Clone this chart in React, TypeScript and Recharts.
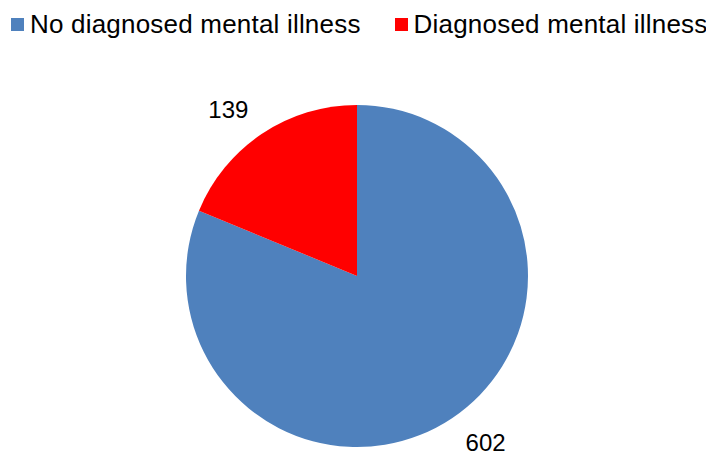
import React from "react";
import { PieChart, Pie, Cell } from "recharts";

const categories = ["No diagnosed mental illness", "Diagnosed mental illness"];
const counts = [602, 139];
const colors = ["#4F81BD", "#FF0000"];

const data = categories.map((name, i) => ({ name, value: counts[i] }));

const RADIAN = Math.PI / 180;

const renderLabel = (props: any) => {
  const { cx, cy, midAngle, outerRadius, value } = props;
  const angle = (midAngle + 4) * RADIAN;
  const r = outerRadius + 39;
  const x = cx + r * Math.cos(angle);
  const y = cy - r * Math.sin(angle);
  return (
    <text
      x={x}
      y={y}
      textAnchor="middle"
      dominantBaseline="central"
      fill="#000"
      fontSize={24}
      fontFamily="Liberation Sans, Arial, sans-serif"
    >
      {value}
    </text>
  );
};

const ChartLegend = () => (
  <div
    style={{
      position: "absolute",
      top: 9,
      left: 11,
      width: 703,
      display: "flex",
      alignItems: "center",
      fontFamily: "Liberation Sans, Arial, sans-serif",
      fontSize: 26,
      letterSpacing: 0.2,
      color: "#000",
      whiteSpace: "nowrap",
      zIndex: 1,
    }}
  >
    {categories.map((c, i) => (
      <div
        key={c}
        style={{
          display: "flex",
          alignItems: "center",
          flexShrink: 0,
          marginRight: i === 0 ? 34 : 0,
        }}
      >
        <span
          style={{
            display: "inline-block",
            width: 13,
            height: 13,
            background: colors[i],
            marginRight: 6,
          }}
        />
        <span>{c}</span>
      </div>
    ))}
  </div>
);

export default function App() {
  return (
    <div
      style={{
        position: "relative",
        left: -8,
        top: -8,
        width: 714,
        height: 452,
        background: "#fff",
      }}
    >
      <ChartLegend />
      <PieChart width={714} height={452} margin={{ top: 0, right: 0, bottom: 0, left: 0 }}>
        <Pie
          data={data}
          dataKey="value"
          nameKey="name"
          cx={357}
          cy={276}
          outerRadius={171}
          startAngle={90}
          endAngle={-270}
          stroke="none"
          label={renderLabel}
          labelLine={false}
          isAnimationActive={false}
        >
          {data.map((d, i) => (
            <Cell key={d.name} fill={colors[i]} />
          ))}
        </Pie>
      </PieChart>
    </div>
  );
}
